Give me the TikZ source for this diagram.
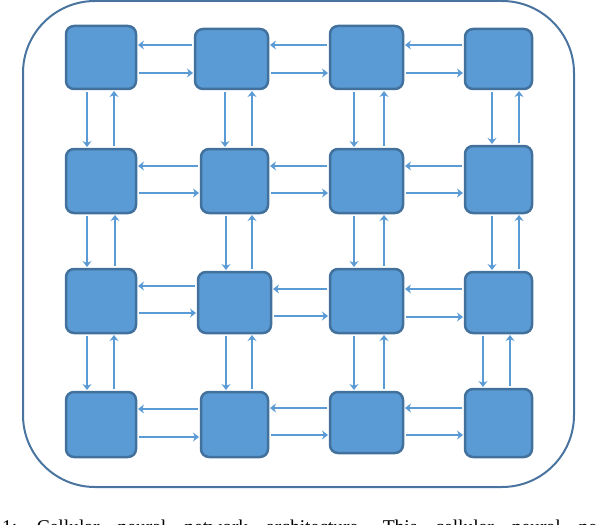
\documentclass[tikz,border=0pt]{standalone}
\usepackage{fontspec}
\newfontfamily\captfont{Liberation Serif}
\usetikzlibrary{arrows.meta}
\definecolor{cellfill}{HTML}{5B9BD5}
\definecolor{cellline}{HTML}{41719C}
\definecolor{arrcol}{HTML}{5B9BD5}
\definecolor{framecol}{HTML}{4A74A0}
\newcommand\mkcell[5]{\node[cellbox, minimum width={(#3-#2)*1pt}, minimum height={(#5-#4)*1pt}] (#1) at ({(#2+#3)/2},{(#4+#5)/2}) {};}
\begin{document}
\begin{tikzpicture}[x=1pt,y=-1pt,
  cellbox/.style={draw=cellline, fill=cellfill, line width=2.5pt, rounded corners=8pt, inner sep=0pt, outer sep=0pt},
  arr/.style={draw=arrcol, line width=2pt, -{Stealth[length=6pt,width=9pt,inset=2pt]}, shorten <=3pt, shorten >=2pt},
  frame/.style={draw=framecol, line width=2pt, rounded corners=72pt}]
\useasboundingbox (0,0) rectangle (596,524);
\clip (0,0) rectangle (596,524);
\draw[frame] (23,1) rectangle (574,487);
% row 1
\mkcell{b11}{66}{136}{26}{89}
\mkcell{b12}{195}{268}{29}{89}
\mkcell{b13}{330}{403}{26}{89}
\mkcell{b14}{465}{532}{29}{89}
% row 2
\mkcell{b21}{66}{136}{149}{213}
\mkcell{b22}{201}{268}{149}{213}
\mkcell{b23}{330}{403}{149}{213}
\mkcell{b24}{465}{532}{146}{213}
% row 3
\mkcell{b31}{66}{136}{269}{333}
\mkcell{b32}{198}{271}{272}{333}
\mkcell{b33}{330}{403}{269}{333}
\mkcell{b34}{465}{532}{272}{333}
% row 4
\mkcell{b41}{66}{136}{392}{457}
\mkcell{b42}{201}{268}{392}{457}
\mkcell{b43}{330}{403}{392}{453}
\mkcell{b44}{465}{532}{389}{457}
% horizontal arrows
\foreach \r/\yl/\yr in {1/45/73, 2/166/193} {
  \foreach \a/\b in {1/2, 2/3, 3/4} {
    \draw[arr] (b\r\b.west |- 0,\yl) -- (b\r\a.east |- 0,\yl);
    \draw[arr] (b\r\a.east |- 0,\yr) -- (b\r\b.west |- 0,\yr);
  }
}
\draw[arr] (b32.west |- 0,286) -- (b31.east |- 0,286);
\draw[arr] (b31.east |- 0,313) -- (b32.west |- 0,313);
\draw[arr] (b33.west |- 0,289) -- (b32.east |- 0,289);
\draw[arr] (b32.east |- 0,316) -- (b33.west |- 0,316);
\draw[arr] (b34.west |- 0,289) -- (b33.east |- 0,289);
\draw[arr] (b33.east |- 0,317) -- (b34.west |- 0,317);
\draw[arr] (b42.west |- 0,409) -- (b41.east |- 0,409);
\draw[arr] (b41.east |- 0,437) -- (b42.west |- 0,437);
\draw[arr] (b43.west |- 0,408) -- (b42.east |- 0,408);
\draw[arr] (b42.east |- 0,435) -- (b43.west |- 0,435);
\draw[arr] (b44.west |- 0,408) -- (b43.east |- 0,408);
\draw[arr] (b43.east |- 0,435) -- (b44.west |- 0,435);
% vertical arrows
\foreach \a/\b/\xa/\xb/\xc/\xd/\xe/\xf/\xg/\xh in {1/2/87/114/225/252/354/384/492/519, 2/3/87/115/226/252/354/384/492/519, 3/4/87/114/226/252/354/384/483/510} {
  \draw[arr] (b\a1.south -| \xa,0) -- (b\b1.north -| \xa,0);
  \draw[arr] (b\b1.north -| \xb,0) -- (b\a1.south -| \xb,0);
  \draw[arr] (b\a2.south -| \xc,0) -- (b\b2.north -| \xc,0);
  \draw[arr] (b\b2.north -| \xd,0) -- (b\a2.south -| \xd,0);
  \draw[arr] (b\a3.south -| \xe,0) -- (b\b3.north -| \xe,0);
  \draw[arr] (b\b3.north -| \xf,0) -- (b\a3.south -| \xf,0);
  \draw[arr] (b\a4.south -| \xg,0) -- (b\b4.north -| \xg,0);
  \draw[arr] (b\b4.north -| \xh,0) -- (b\a4.south -| \xh,0);
}
\node[anchor=base west, inner sep=0pt] (cap) at (1.8,533) {\captfont\fontsize{19.5}{22}\selectfont\spaceskip=18pt 1: Cellular neural network architecture. This cellular neural network};
\end{tikzpicture}
\end{document}
